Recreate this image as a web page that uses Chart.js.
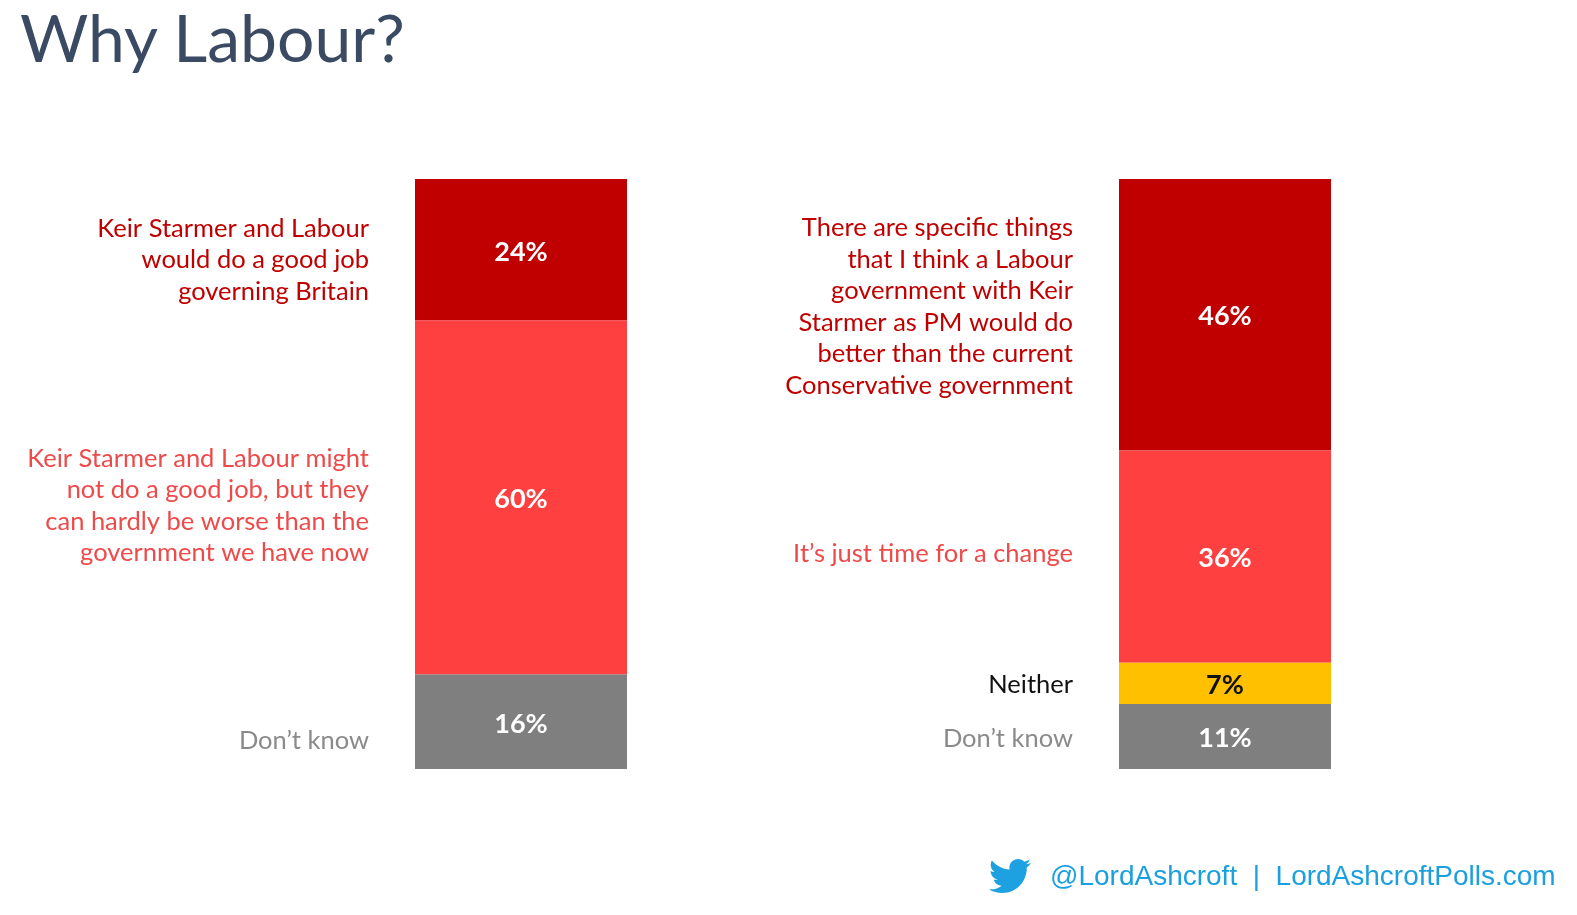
<!DOCTYPE html>
<html>
<head>
<meta charset="utf-8">
<script src="https://cdn.jsdelivr.net/npm/chart.js@4/dist/chart.umd.min.js"></script>
<style>
  html, body { margin: 0; padding: 0; background: #fff; overflow: hidden; }
  #wrap { position: absolute; left: 0; top: 0; width: 1577px; height: 915px; transform-origin: 0 0; }
  #chart { position: absolute; left: 0; top: 0; }
  #title {
    position: absolute; left: 20px; top: 4px; margin: 0;
    font: 400 66px Lato, sans-serif; line-height: 1; color: #3b4a63;
  }
  #footer {
    position: absolute; left: 989px; top: 856px; height: 40px;
    display: flex; align-items: center; white-space: pre;
    font: 28px "Liberation Sans", Arial, sans-serif; color: #1a9fdf;
  }
  #footer svg { width: 42px; height: 36px; margin-right: 19px; }
</style>
</head>
<body>
<div id="wrap">
  <canvas id="chart" width="1577" height="915"></canvas>
  <h1 id="title">Why Labour?</h1>
  <div id="footer"><svg viewBox="0 1.8 24 20.4"><path fill="#1da1e0" d="M23.954 4.569c-.885.389-1.83.654-2.825.775 1.014-.611 1.794-1.574 2.163-2.723-.951.555-2.005.959-3.127 1.184-.896-.959-2.173-1.559-3.591-1.559-2.717 0-4.920 2.203-4.920 4.917 0 .39.045.765.127 1.124C7.691 8.094 4.066 6.13 1.64 3.161c-.427.722-.666 1.561-.666 2.475 0 1.71.87 3.213 2.188 4.096-.807-.026-1.566-.248-2.228-.616v.061c0 2.385 1.693 4.374 3.946 4.827-.413.111-.849.171-1.296.171-.314 0-.615-.03-.916-.086.631 1.953 2.445 3.377 4.604 3.417-1.680 1.319-3.809 2.105-6.102 2.105-.39 0-.779-.023-1.170-.067 2.189 1.394 4.768 2.209 7.557 2.209 9.054 0 13.999-7.496 13.999-13.986 0-.209 0-.42-.015-.63.961-.689 1.8-1.56 2.46-2.548l-.047-.02z"/></svg><span>@LordAshcroft  |  LordAshcroftPolls.com</span></div>
</div>

<script>
// keep the 1577x915 slide filling the window
const wrap = document.getElementById('wrap');
wrap.style.transform = 'scale(' + (window.innerWidth / 1577) + ',' + (window.innerHeight / 915) + ')';

// two questions, one stacked bar each
const questions = ['Good job or can\u2019t be worse', 'Specific things or time for a change'];

// values in %, bottom segment first
const dontKnow = [16, 11];
const neither = [null, 7];
const secondReason = [60, 36];
const firstReason = [24, 46];

const dontKnowText = [['Don\u2019t know'], ['Don\u2019t know']];
const neitherText = [null, ['Neither']];
const secondReasonText = [
    ['Keir Starmer and Labour might', 'not do a good job, but they', 'can hardly be worse than the', 'government we have now'],
    ['It\u2019s just time for a change']
];
const firstReasonText = [
    ['Keir Starmer and Labour', 'would do a good job', 'governing Britain'],
    ['There are specific things', 'that I think a Labour', 'government with Keir', 'Starmer as PM would do', 'better than the current', 'Conservative government']
];

// draws the % inside each segment and the description to the left of it
const segmentLabels = {
    id: 'segmentLabels',
    afterDatasetsDraw(chart, args, opts) {
        const ctx = chart.ctx;
        chart.data.datasets.forEach((ds, di) => {
            const meta = chart.getDatasetMeta(di);
            meta.data.forEach((bar, i) => {
                const v = ds.data[i];
                if (v == null) return;
                const mid = (bar.y + bar.base) / 2;
                ctx.save();
                ctx.textBaseline = 'middle';

                ctx.font = 'bold 27px Lato, sans-serif';
                ctx.fillStyle = ds.valueColor;
                ctx.textAlign = 'center';
                ctx.fillText(v + '%', bar.x, mid + 2);

                const lines = ds.sideText[i];
                if (lines) {
                    ctx.font = '25.5px Lato, sans-serif';
                    ctx.fillStyle = ds.textColor;
                    ctx.textAlign = 'right';
                    const lh = 31.5;
                    const shift = opts.shifts[di][i];
                    const top = mid + shift - (lines.length - 1) * lh / 2;
                    const right = bar.x - bar.width / 2 - opts.gap;
                    lines.forEach((line, li) => ctx.fillText(line, right, top + li * lh));
                }
                ctx.restore();
            });
        });
    }
};

new Chart(document.getElementById('chart'), {
    type: 'bar',
    data: {
        labels: questions,
        datasets: [
            { label: 'Don\u2019t know', data: dontKnow, backgroundColor: '#7f7f7f',
              valueColor: '#ffffff', textColor: '#8a8a8a', sideText: dontKnowText },
            { label: 'Neither', data: neither, backgroundColor: '#ffc000',
              valueColor: '#111111', textColor: '#111111', sideText: neitherText },
            { label: 'Second reason', data: secondReason, backgroundColor: '#ff4040',
              valueColor: '#ffffff', textColor: '#ee4a4a', sideText: secondReasonText },
            { label: 'First reason', data: firstReason, backgroundColor: '#c00000',
              valueColor: '#ffffff', textColor: '#c00000', sideText: firstReasonText }
        ]
    },
    options: {
        responsive: false,
        animation: false,
        layout: { padding: { top: 179, bottom: 146, left: 169, right: 0 } },
        datasets: {
            bar: { categoryPercentage: 1, barPercentage: 212 / 704, borderWidth: 0 }
        },
        scales: {
            x: { stacked: true, display: false },
            y: { stacked: true, display: false, min: 0, max: 100 }
        },
        plugins: {
            legend: { display: false },
            tooltip: { enabled: false },
            segmentLabels: {
                gap: 46,
                shifts: [[19, 2], [2, 1], [8, -3], [10, -8]]
            }
        }
    },
    plugins: [segmentLabels]
});
</script>
</body>
</html>
